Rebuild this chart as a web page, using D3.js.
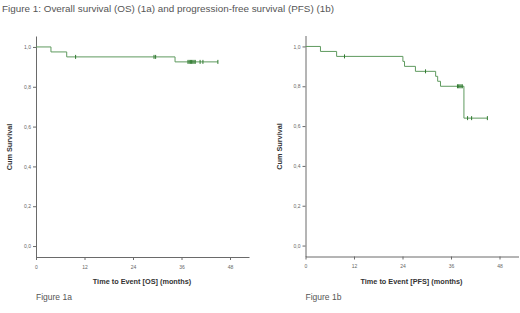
<!DOCTYPE html>
<html><head><meta charset="utf-8">
<script src="https://cdn.jsdelivr.net/npm/d3@7"></script>
<style>html,body{margin:0;padding:0;background:#fff;}svg{display:block;}</style>
</head><body>
<svg id="c" width="520" height="313"></svg>
<script>
const titleText = "Figure 1: Overall survival (OS) (1a) and progression-free  survival (PFS) (1b)";
const xTicks = [0, 12, 24, 36, 48];
const yTicks = [0, 0.2, 0.4, 0.6, 0.8, 1.0];

// Overall survival (OS) step function
const osTimes = [0, 3.7, 7.6, 34.4];
const osSurv  = [1.0, 0.975, 0.95, 0.925];
const osEnd = 45.0;
const osCensor = [9.8, 29.2, 29.6, 37.6, 37.9, 38.2, 38.5, 38.8, 39.1, 39.4, 40.6, 41.3, 45.0];

// Progression-free survival (PFS) step function
const pfsTimes = [0, 3.7, 7.7, 24.1, 24.5, 27.2, 32.2, 32.7, 33.4, 39.2];
const pfsSurv  = [1.0, 0.975, 0.95, 0.925, 0.9, 0.875, 0.85, 0.825, 0.8, 0.64];
const pfsEnd = 45.0;
const pfsCensor = [9.65, 29.7, 37.6, 37.9, 38.2, 38.5, 38.8, 40.1, 41.1, 45.0];

const svg = d3.select("#c");
const axisCol = "#6a6a6a";
const lineCol = "#5f9a5f";

svg.append("text").attr("x", 2).attr("y", 12)
  .attr("font-family", "Liberation Sans, Arial, sans-serif").attr("font-size", 9)
  .attr("fill", "#555").attr("textLength", 332).attr("lengthAdjust", "spacingAndGlyphs")
  .text(titleText);

function panel(cfg) {
  const x = d3.scaleLinear().domain([0, 52.7]).range([cfg.x0, cfg.x0 + 213]);
  const y = d3.scaleLinear().domain([-0.055, 1.055]).range([cfg.yb, cfg.yb - 221]);
  const g = svg.append("g");

  // y axis
  const ya = g.append("g").attr("transform", `translate(${cfg.x0},0)`)
    .call(d3.axisLeft(y).tickValues(yTicks).tickSize(3).tickPadding(2)
      .tickFormat(d => d3.format(".1f")(d).replace(".", ",")).tickSizeOuter(0));
  // x axis
  const xa = g.append("g").attr("transform", `translate(0,${cfg.yb})`)
    .call(d3.axisBottom(x).tickValues(xTicks).tickSize(3).tickPadding(5).tickSizeOuter(0));
  [ya, xa].forEach(a => {
    a.select(".domain").attr("stroke", axisCol).attr("stroke-width", 1);
    a.selectAll(".tick line").attr("stroke", axisCol);
    a.selectAll(".tick text").attr("font-family", "Liberation Sans, Arial, sans-serif")
      .attr("font-size", 5).attr("fill", "#666");
  });

  // axis titles
  g.append("text").attr("x", cfg.x0 + 106).attr("y", cfg.yb + 27)
    .attr("text-anchor", "middle").attr("font-family", "Liberation Sans, Arial, sans-serif")
    .attr("font-weight", "bold").attr("font-size", 7.3).attr("fill", "#333").text(cfg.xTitle);
  g.append("text").attr("transform", `translate(${cfg.x0 - 24},${cfg.yb - 110}) rotate(-90)`)
    .attr("text-anchor", "middle").attr("font-family", "Liberation Sans, Arial, sans-serif")
    .attr("font-weight", "bold").attr("font-size", 7.3).attr("fill", "#333").text("Cum Survival");

  // step curve
  const pts = cfg.times.map((t, i) => [t, cfg.surv[i]]);
  pts.push([cfg.end, cfg.surv[cfg.surv.length - 1]]);
  g.append("path").datum(pts)
    .attr("d", d3.line().x(d => x(d[0])).y(d => y(d[1])).curve(d3.curveStepAfter))
    .attr("fill", "none").attr("stroke", lineCol).attr("stroke-width", 1);

  // censor marks
  const survAt = t => { let s = cfg.surv[0]; cfg.times.forEach((tt, i) => { if (tt <= t) s = cfg.surv[i]; }); return s; };
  g.selectAll("line.cens").data(cfg.censor).enter().append("line")
    .attr("x1", d => x(d)).attr("x2", d => x(d))
    .attr("y1", d => y(survAt(d)) - 2).attr("y2", d => y(survAt(d)) + 2)
    .attr("stroke", "#2f7a2f").attr("stroke-width", 1);

  svg.append("text").attr("x", cfg.x0).attr("y", 300)
    .attr("font-family", "Liberation Sans, Arial, sans-serif").attr("font-size", 8.5)
    .attr("fill", "#555").text(cfg.label);
}

panel({x0: 36, yb: 257, times: osTimes, surv: osSurv, end: osEnd, censor: osCensor,
  xTitle: "Time to Event [OS] (months)", label: "Figure 1a"});
panel({x0: 305.5, yb: 256.5, times: pfsTimes, surv: pfsSurv, end: pfsEnd, censor: pfsCensor,
  xTitle: "Time to Event [PFS] (months)", label: "Figure 1b"});
</script>
</body></html>
